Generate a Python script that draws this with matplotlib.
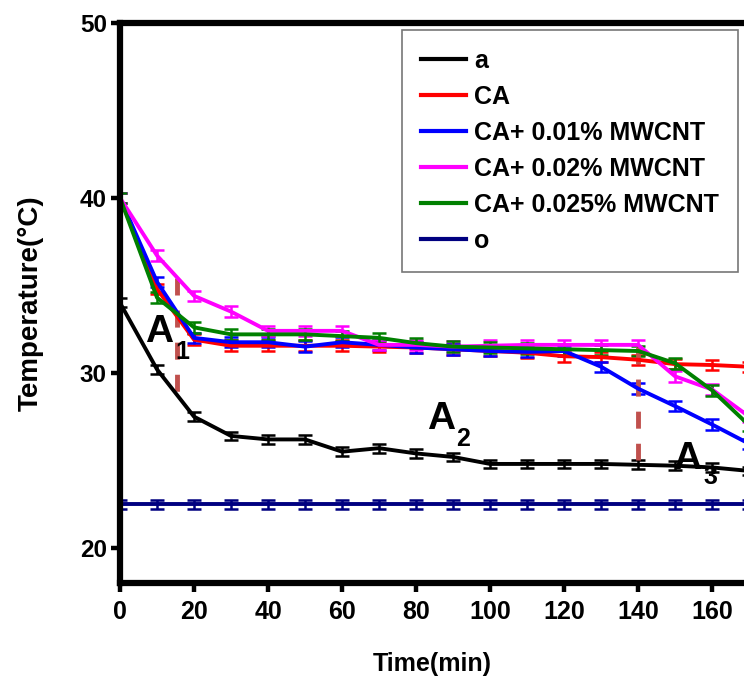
import matplotlib
matplotlib.use("Agg")
import matplotlib.pyplot as plt
from matplotlib.lines import Line2D
import numpy as np

plt.rcParams['font.family'] = ['Liberation Sans', 'DejaVu Sans']
plt.rcParams['font.weight'] = 'bold'

time = [0, 10, 20, 30, 40, 50, 60, 70, 80, 90, 100, 110, 120, 130, 140, 150, 160, 170]

temp_a = [34.0, 30.2, 27.5, 26.4, 26.2, 26.2, 25.5, 25.7, 25.4, 25.2, 24.8, 24.8,
          24.8, 24.8, 24.75, 24.7, 24.6, 24.4]
temp_ca = [40.0, 34.8, 31.9, 31.55, 31.55, 31.55, 31.55, 31.5, 31.45, 31.35, 31.25,
           31.15, 30.95, 30.9, 30.75, 30.5, 30.45, 30.35]
temp_001 = [40.0, 35.2, 32.0, 31.75, 31.75, 31.5, 31.75, 31.6, 31.45, 31.35, 31.25,
            31.2, 31.25, 30.35, 29.1, 28.1, 27.05, 25.95]
temp_002 = [40.0, 36.7, 34.4, 33.5, 32.4, 32.4, 32.4, 31.6, 31.6, 31.5, 31.55, 31.6,
            31.6, 31.6, 31.6, 29.8, 29.05, 27.5]
temp_0025 = [40.0, 34.3, 32.6, 32.2, 32.2, 32.2, 32.1, 32.0, 31.7, 31.5, 31.45, 31.4,
             31.35, 31.3, 31.25, 30.55, 29.0, 27.0]
temp_o = [22.5] * 18

series = [
    ('a', temp_a, 0.25, 'black'),
    ('CA', temp_ca, 0.3, '#ff0000'),
    ('CA+ 0.01% MWCNT', temp_001, 0.3, '#0000ff'),
    ('CA+ 0.02% MWCNT', temp_002, 0.3, '#ff00ff'),
    ('CA+ 0.025% MWCNT', temp_0025, 0.3, '#008000'),
    ('o', temp_o, 0.25, '#000080'),
]

fig = plt.figure(figsize=(7.44, 6.84), dpi=100)
ax = fig.add_axes([120 / 744, 1 - 583 / 684, 1 - 120 / 744, (583 - 22.7) / 684])

handles = []
for label, vals, err, col in series:
    ax.errorbar(time, vals, yerr=err, color=col, lw=2.8, capsize=5, capthick=1.8,
                elinewidth=1.8)
    handles.append(Line2D([], [], color=col, lw=3, label=label))

# phase separators
dash_col = '#c0504d'
ax.plot([15.5, 15.5], [35.4, 28.9], color=dash_col, lw=3.5, dashes=(3.5, 3.1))
ax.plot([140, 140], [31.5, 25.0], color=dash_col, lw=3.5, dashes=(3.5, 3.1))

ax.text(6.8, 31.75, 'A', fontsize=28, fontweight='bold')
ax.text(14.9, 30.8, '1', fontsize=18, fontweight='bold')
ax.text(83.0, 26.8, 'A', fontsize=28, fontweight='bold')
ax.text(90.8, 25.85, '2', fontsize=18, fontweight='bold')
ax.text(149.5, 24.5, 'A', fontsize=28, fontweight='bold')
ax.text(157.6, 23.67, '3', fontsize=18, fontweight='bold')

ax.set_xlim(0, 168.6)
ax.set_ylim(18, 50)
ax.set_xticks(np.arange(0, 161, 20))
ax.set_yticks([20, 30, 40, 50])

for s in ['left', 'bottom', 'top']:
    ax.spines[s].set_linewidth(4.5)
ax.spines['right'].set_visible(False)

ax.tick_params(axis='both', direction='out', length=6.5, width=3.2)
ax.tick_params(axis='x', labelsize=18, pad=6)
ax.tick_params(axis='y', labelsize=17.5, pad=3)
ax.tick_params(top=False, right=False)

ax.set_xlabel('Time(min)', fontsize=18, fontweight='bold', labelpad=20)
ax.set_ylabel('Temperature(°C)', fontsize=20, fontweight='bold', labelpad=26)

leg = ax.legend(handles=handles, loc='upper right',
                bbox_to_anchor=(738 / 744, 1 - 30 / 684),
                bbox_transform=fig.transFigure, borderaxespad=0, fontsize=18,
                frameon=True, fancybox=False, handlelength=1.8, handletextpad=0.35,
                labelspacing=0.48, borderpad=0.75)
leg.get_frame().set_edgecolor('#555555')
leg.get_frame().set_linewidth(1.2)

fig.savefig('out.png', dpi=100)
